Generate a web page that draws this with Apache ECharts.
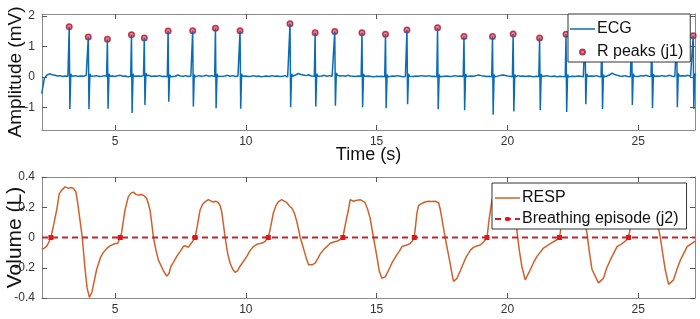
<!DOCTYPE html>
<html>
<head>
<meta charset="utf-8">
<script src="https://cdn.jsdelivr.net/npm/echarts@6/dist/echarts.min.js"></script>
<style>
  html, body { margin: 0; padding: 0; background: #fff; }
  #container { width: 700px; height: 319px; }
</style>
</head>
<body>
<div id="container"></div>
<script>
// tick labels
const xTicks = [5, 10, 15, 20, 25];
const ecgTicks = [-1, 0, 1, 2];
const respTicks = [-0.4, -0.2, 0, 0.2, 0.4];

// R peaks (j1): time (s), R amplitude, following S trough (mV)
const rPeakTimes = [3.25, 3.98, 4.71, 5.63, 6.12, 7.03, 7.97, 8.84, 9.78, 11.69, 12.65, 13.40, 14.44,
    15.34, 16.16, 17.33, 18.34, 19.43, 20.22, 21.23, 22.24, 22.97, 23.61, 24.75, 25.52, 26.47, 27.10];
const rPeakAmps = [1.65, 1.31, 1.24, 1.39, 1.28, 1.51, 1.52, 1.60, 1.52, 1.75, 1.45, 1.49, 1.45,
    1.40, 1.54, 1.62, 1.33, 1.33, 1.41, 1.28, 1.40, 1.40, 1.40, 1.40, 1.40, 1.40, 1.35];
const sWaveAmps = [-1.06, -1.07, -1.05, -1.19, -0.93, -0.82, -0.98, -1.03, -1.05, -1.00, -0.98, -0.95, -1.00,
    -1.03, -0.90, -1.07, -1.10, -1.25, -1.14, -1.10, -1.16, -0.90, -1.06, -0.93, -1.03, -1.00, -1.06];

// ECG baseline read every 0.1 s from 2.2 s (one row = 1 s)
const ecgBaseStart = 2.2, ecgBaseStep = 0.1;
const ecgBaseline = [
    -0.55, -0.05, 0.06, 0.10, 0.07, 0.05, 0.03, 0.04, 0.01, 0.03,
    0.02, 0.00, 0.03, 0.04, 0.01, 0.03, 0.02, 0.05, 0.02, 0.01,
    0.03, 0.04, 0.01, 0.02, 0.04, 0.02, 0.00, 0.03, 0.01, 0.04,
    0.05, 0.02, 0.03, 0.00, 0.02, 0.04, 0.01, 0.03, 0.02, 0.04,
    0.03, 0.05, 0.01, 0.03, 0.02, 0.04, 0.01, 0.02, 0.00, 0.03,
    0.04, 0.02, 0.06, 0.03, 0.02, 0.04, 0.01, 0.03, 0.00, 0.02,
    0.04, 0.02, 0.03, 0.05, 0.02, 0.04, 0.01, 0.03, 0.04, 0.02,
    0.03, 0.05, 0.02, 0.04, 0.01, 0.03, 0.02, 0.00, 0.03, 0.01,
    0.02, 0.04, 0.01, 0.03, 0.00, 0.02, 0.03, 0.01, 0.04, 0.02,
    0.03, 0.01, 0.02, 0.04, 0.00, 0.02, 0.03, 0.06, 0.11, 0.08,
    0.06, 0.04, 0.07, 0.03, 0.02, 0.04, 0.01, 0.03, 0.05, 0.02,
    0.04, 0.02, 0.05, 0.01, 0.03, 0.04, 0.02, 0.05, 0.03, 0.02,
    0.01, 0.03, 0.02, 0.06, 0.05, 0.03, 0.01, 0.00, 0.02, 0.01,
    0.02, 0.00, 0.03, 0.01, 0.03, 0.02, 0.04, 0.02, 0.00, 0.01,
    0.02, 0.03, 0.01, 0.03, 0.02, 0.04, 0.03, 0.02, 0.04, 0.01,
    0.02, 0.00, 0.03, 0.01, 0.02, 0.03, 0.01, 0.02, 0.04, 0.02,
    0.03, 0.01, 0.00, 0.02, 0.03, 0.02, 0.04, 0.06, 0.04, 0.03,
    0.01, 0.02, 0.00, 0.03, 0.05, 0.04, 0.06, 0.05, 0.03, 0.02,
    0.00, 0.02, 0.04, 0.02, 0.03, 0.01, 0.03, 0.02, 0.00, 0.02,
    0.01, 0.03, 0.02, 0.04, 0.02, 0.01, 0.03, 0.00, 0.02, 0.01,
    0.00, 0.02, 0.04, 0.02, 0.01, 0.03, 0.02, 0.00, 0.02, 0.01,
    0.03, 0.02, 0.04, 0.01, 0.00, 0.02, 0.03, 0.06, 0.12, 0.08,
    0.05, 0.03, 0.02, 0.04, 0.01, 0.00, 0.02, 0.03, 0.01, 0.04,
    0.03, 0.05, 0.02, 0.01, 0.00, 0.03, 0.02, 0.04, 0.02, 0.03,
    0.05, 0.02, 0.01, 0.03, 0.02, 0.04, 0.03, 0.05, 0.02, 0.03,
    0.02
];

// respiration volume (L): [time, value]
const respCurve = [
    [2.2, -0.078], [2.3, -0.07], [2.4, -0.055], [2.5, -0.02], [2.55, 0], [2.65, 0.08], [2.77, 0.18],
    [2.87, 0.29], [2.95, 0.31], [3.09, 0.335], [3.22, 0.325], [3.3, 0.33], [3.41, 0.325], [3.51, 0.30],
    [3.58, 0.22], [3.66, 0.117], [3.75, 0.0], [3.85, -0.2], [3.93, -0.33], [4.02, -0.396], [4.12, -0.36],
    [4.3, -0.21], [4.45, -0.13], [4.55, -0.10], [4.7, -0.07], [4.81, -0.055], [5.0, -0.04], [5.1, -0.04],
    [5.17, -0.03], [5.2, 0], [5.25, 0.03], [5.38, 0.18], [5.51, 0.27], [5.62, 0.295], [5.70, 0.30],
    [5.8, 0.285], [5.89, 0.28], [6.02, 0.285], [6.12, 0.275], [6.21, 0.26], [6.28, 0.22], [6.34, 0.18],
    [6.40, 0.1], [6.47, 0], [6.56, -0.08], [6.66, -0.15], [6.85, -0.22], [6.98, -0.255], [7.06, -0.24],
    [7.14, -0.19], [7.25, -0.16], [7.36, -0.125], [7.5, -0.09], [7.61, -0.06], [7.70, -0.055], [7.80, -0.065],
    [7.95, -0.03], [8.06, 0], [8.15, 0.08], [8.25, 0.18], [8.35, 0.22], [8.44, 0.235], [8.57, 0.25],
    [8.68, 0.24], [8.76, 0.235], [8.85, 0.24], [8.95, 0.23], [9.02, 0.21], [9.08, 0.17], [9.15, 0.08],
    [9.21, 0], [9.30, -0.1], [9.40, -0.17], [9.50, -0.21], [9.59, -0.23], [9.68, -0.22], [9.78, -0.19],
    [9.9, -0.16], [10.04, -0.125], [10.15, -0.09], [10.29, -0.06], [10.42, -0.045], [10.55, -0.04],
    [10.65, -0.035], [10.74, -0.025], [10.86, 0], [10.95, 0.07], [11.05, 0.16], [11.15, 0.21], [11.24, 0.235],
    [11.37, 0.25], [11.47, 0.24], [11.57, 0.23], [11.66, 0.21], [11.76, 0.195], [11.86, 0.16], [11.95, 0.105],
    [12.02, 0.05], [12.08, 0], [12.2, -0.07], [12.3, -0.13], [12.40, -0.18], [12.46, -0.185], [12.55, -0.18],
    [12.65, -0.17], [12.75, -0.14], [12.84, -0.11], [13.0, -0.075], [13.1, -0.06], [13.22, -0.04],
    [13.35, -0.03], [13.48, -0.025], [13.6, -0.015], [13.71, 0], [13.82, 0.1], [13.92, 0.18], [13.99, 0.25],
    [14.05, 0.25], [14.11, 0.24], [14.2, 0.245], [14.37, 0.25], [14.47, 0.24], [14.56, 0.23], [14.65, 0.19],
    [14.75, 0.13], [14.82, 0.06], [14.88, 0], [15.01, -0.125], [15.10, -0.22], [15.20, -0.27], [15.33, -0.26],
    [15.45, -0.22], [15.58, -0.17], [15.77, -0.115], [15.87, -0.09], [15.97, -0.06], [16.06, -0.055],
    [16.16, -0.05], [16.28, -0.04], [16.38, -0.02], [16.44, 0], [16.54, 0.16], [16.60, 0.21], [16.73, 0.225],
    [16.85, 0.235], [16.98, 0.24], [17.1, 0.238], [17.24, 0.24], [17.37, 0.23], [17.44, 0.18], [17.50, 0.12],
    [17.56, 0.06], [17.62, 0], [17.72, -0.09], [17.81, -0.17], [17.88, -0.24], [17.94, -0.29], [18.07, -0.27],
    [18.2, -0.22], [18.32, -0.17], [18.42, -0.13], [18.51, -0.105], [18.60, -0.08], [18.70, -0.065],
    [18.85, -0.055], [18.96, -0.05], [19.09, -0.03], [19.22, 0], [19.30, 0.12], [19.41, 0.25], [19.5, 0.27],
    [19.7, 0.28], [19.9, 0.27], [20.1, 0.25], [20.25, 0.18], [20.36, 0.05], [20.45, -0.08], [20.55, -0.19],
    [20.68, -0.28], [20.87, -0.215], [21.0, -0.165], [21.13, -0.125], [21.38, -0.07], [21.64, -0.04],
    [21.89, -0.015], [21.99, 0], [22.1, 0.12], [22.2, 0.2], [22.4, 0.24], [22.6, 0.25], [22.8, 0.22],
    [22.95, 0.12], [23.04, 0.03], [23.12, -0.08], [23.23, -0.21], [23.48, -0.30], [23.67, -0.27],
    [23.8, -0.2], [23.93, -0.15], [24.19, -0.06], [24.38, -0.04], [24.57, -0.015], [24.63, 0], [24.75, 0.12],
    [24.85, 0.2], [25.0, 0.24], [25.3, 0.25], [25.6, 0.22], [25.75, 0.08], [25.84, 0.005], [25.93, -0.1],
    [26.03, -0.21], [26.16, -0.31], [26.35, -0.28], [26.48, -0.21], [26.61, -0.15], [26.87, -0.06],
    [27.12, -0.03], [27.2, -0.025]
];

// breathing episode (j2) onsets
const breathTimes = [2.55, 5.20, 8.06, 10.86, 13.71, 16.44, 19.22, 21.99, 24.63];

const xMin = 2.21, xMax = 27.17;
const FONT = 'Liberation Sans, Arial, Helvetica, sans-serif';
const LINE_ICON = 'path://M0,0H50V3H0Z';

// build ECG trace: baseline samples with a QRS complex spliced in at every R peak
let ecgData = [];
ecgBaseline.forEach(function (v, i) {
    let t = ecgBaseStart + i * ecgBaseStep;
    let nearBeat = rPeakTimes.some(function (r) { return t > r - 0.05 && t < r + 0.11; });
    if (!nearBeat) ecgData.push([t, v]);
});
rPeakTimes.forEach(function (t, i) {
    let b = ecgBaseline[Math.round((t - ecgBaseStart) / ecgBaseStep)] || 0;
    ecgData.push([t - 0.03, b], [t, rPeakAmps[i]], [t + 0.025, sWaveAmps[i]],
        [t + 0.06, b + 0.08], [t + 0.1, b]);
});
ecgData.sort(function (a, b) { return a[0] - b[0]; });

let peakData = rPeakTimes.map(function (t, i) { return [t, rPeakAmps[i]]; });

let breathData = [{ value: [xMin, 0], symbol: 'none' }];
breathTimes.forEach(function (t) { breathData.push([t, 0]); });
breathData.push({ value: [xMax, 0], symbol: 'none' });

let dom = document.getElementById('container');
let myChart = echarts.init(dom, null, { renderer: 'canvas' });

function xAx(gridIndex, pos, withLabels, name) {
    return {
        type: 'value', gridIndex: gridIndex, position: pos, min: xMin, max: xMax,
        name: name || '', nameLocation: 'middle', nameGap: 16, nameMoveOverlap: false,
        nameTextStyle: { fontFamily: FONT, fontSize: 18, color: '#111' },
        axisLine: { show: true, onZero: false, lineStyle: { color: '#8a8a8a', width: 1 } },
        axisTick: { show: true, inside: true, length: 5, customValues: xTicks, lineStyle: { color: '#555' } },
        axisLabel: { show: withLabels, customValues: xTicks, margin: 6, fontFamily: FONT, fontSize: 12, color: '#333' },
        splitLine: { show: false }
    };
}
function yAx(gridIndex, pos, withLabels, min, max, ticks, name, nameSize, nameGap) {
    return {
        type: 'value', gridIndex: gridIndex, position: pos, min: min, max: max,
        name: name || '', nameLocation: 'middle', nameGap: nameGap || 0, nameMoveOverlap: false,
        nameTextStyle: { fontFamily: FONT, fontSize: nameSize || 12, color: '#111' },
        axisLine: { show: true, onZero: false, lineStyle: { color: '#8a8a8a', width: 1 } },
        axisTick: { show: true, inside: true, length: 5, customValues: ticks, lineStyle: { color: '#555' } },
        axisLabel: { show: withLabels, customValues: ticks, margin: 7, fontFamily: FONT, fontSize: 12, color: '#333' },
        splitLine: { show: false }
    };
}

let option = {
    animation: false,
    backgroundColor: '#fff',
    grid: [
        { left: 42, right: 5, top: 14, height: 116, outerBoundsMode: 'none', containLabel: false },
        { left: 42, right: 5, top: 177, height: 121, outerBoundsMode: 'none', containLabel: false }
    ],
    xAxis: [
        xAx(0, 'bottom', true, 'Time (s)'),
        xAx(0, 'top', false),
        xAx(1, 'bottom', true),
        xAx(1, 'top', false)
    ],
    yAxis: [
        yAx(0, 'left', true, -1.75, 2.07, ecgTicks, 'Amplitude (mV)', 19, 17),
        yAx(0, 'right', false, -1.75, 2.07, ecgTicks),
        yAx(1, 'left', true, -0.4, 0.4, respTicks, 'Volume (L)', 21, 16),
        yAx(1, 'right', false, -0.4, 0.4, respTicks)
    ],
    legend: [
        {
            data: [{ name: 'ECG', icon: LINE_ICON }, 'R peaks (j1)'],
            orient: 'vertical', left: 568, top: 14,
            itemWidth: 25, itemHeight: 5, itemGap: 7,
            padding: [7, 7, 2, 2],
            backgroundColor: '#fff', borderColor: '#333', borderWidth: 1, borderRadius: 0,
            textStyle: { fontFamily: FONT, fontSize: 16, color: '#111', padding: [0, 0, 0, -3] }
        },
        {
            data: [{ name: 'RESP', icon: LINE_ICON }, 'Breathing episode (j2)'],
            orient: 'vertical', left: 492, top: 183,
            itemWidth: 25, itemHeight: 5, itemGap: 5,
            padding: [7, 8, 2, 2],
            backgroundColor: '#fff', borderColor: '#333', borderWidth: 1, borderRadius: 0,
            textStyle: { fontFamily: FONT, fontSize: 16, color: '#111', padding: [0, 0, 0, -3] }
        }
    ],
    series: [
        {
            name: 'ECG', type: 'line', xAxisIndex: 0, yAxisIndex: 0,
            data: ecgData, symbol: 'none', sampling: 'none',
            lineStyle: { color: '#0b6cb5', width: 1.5 }, itemStyle: { color: '#0b6cb5' }
        },
        {
            name: 'R peaks (j1)', type: 'scatter', xAxisIndex: 0, yAxisIndex: 0,
            data: peakData, symbol: 'circle', symbolSize: 5.5,
            itemStyle: { color: '#e06070', borderColor: '#b3132b', borderWidth: 1.5 }
        },
        {
            name: 'RESP', type: 'line', xAxisIndex: 2, yAxisIndex: 2,
            data: respCurve, symbol: 'none', smooth: false,
            lineStyle: { color: '#d0602a', width: 1.5 }, itemStyle: { color: '#d0602a' }
        },
        {
            name: 'Breathing episode (j2)', type: 'line', xAxisIndex: 2, yAxisIndex: 2,
            data: breathData, symbol: 'rect', symbolSize: 5, showAllSymbol: true,
            lineStyle: { color: '#c8232b', width: 2, type: [6, 4] },
            itemStyle: { color: '#e3141c' }
        }
    ]
};
myChart.setOption(option);
</script>
</body>
</html>
